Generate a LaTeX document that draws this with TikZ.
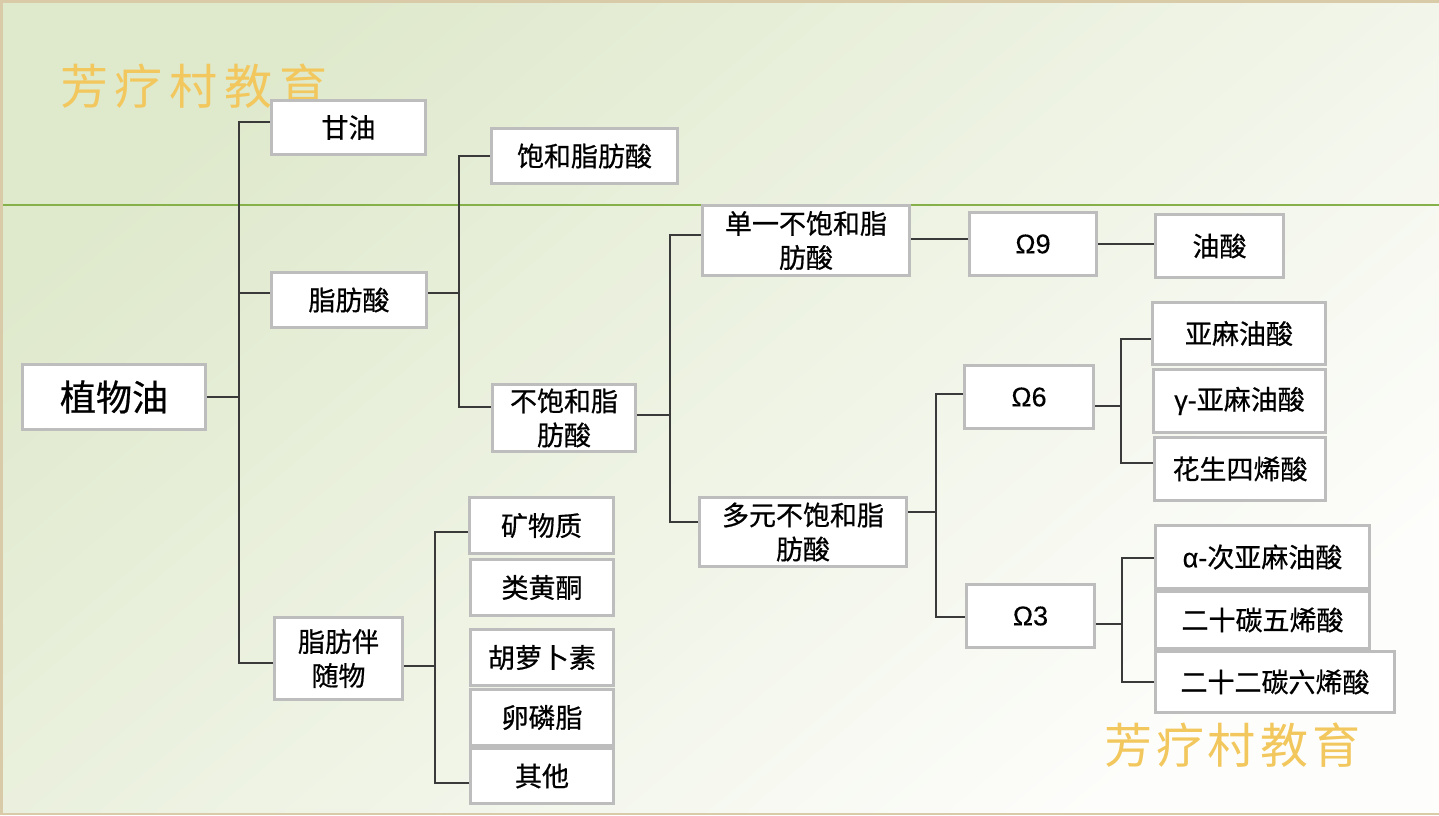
\documentclass[tikz,border=0pt]{standalone}
\usepackage{fontspec}
\setmainfont{Noto Sans CJK SC}[FakeBold=0.6]
\newfontfamily\lat{Liberation Sans}[FakeBold=0.3]
\newfontfamily\wmfont{Noto Sans CJK SC}
\usetikzlibrary{calc}
\definecolor{bordergray}{HTML}{BDBDBD}
\definecolor{framecol}{HTML}{D9CAA8}
\definecolor{bgA}{HTML}{DFE9CC}
\definecolor{bgB}{HTML}{FDFDFB}
\definecolor{greenline}{HTML}{86B04A}
\definecolor{gold}{HTML}{F2C85E}
\definecolor{connc}{HTML}{3A3A3A}
\begin{document}
\begin{tikzpicture}[x=1pt,y=-1pt,
  box/.style={draw=bordergray, line width=3pt, fill=white, inner sep=0pt, align=center,
              font=\fontsize{27}{34}\selectfont, text=black},
  conn/.style={draw=connc, line width=1.3pt},
  wmtext/.style={inner sep=0pt, text=gold, font=\wmfont\fontsize{48}{48}\selectfont}]
\useasboundingbox (0,0) rectangle (1439,815);
% background
\fill[framecol] (0,0) rectangle (1439,815);
\shade[top color=bgA, bottom color=bgB, shading angle=40] (3,3) rectangle (1439,812);
\draw[greenline, line width=1.4pt] (3,205) -- (1439,205);
% watermarks
\node[wmtext] (wmA) at (194,86) {芳\hspace{7pt}疗\hspace{7pt}村\hspace{7pt}教\hspace{7pt}育};
\node[wmtext] (wmB) at (1232,745) {芳\hspace{4pt}疗\hspace{4pt}村\hspace{4pt}教\hspace{4pt}育};
% boxes
\node[box, minimum width=183pt, minimum height=65pt, font=\fontsize{36}{40}\selectfont] (root) at (114,397) {植物油};
\node[box, minimum width=154pt, minimum height=54pt] (gy) at (348.5,127.5) {甘油};
\node[box, minimum width=155pt, minimum height=55pt] (zfs) at (349,300) {脂肪酸};
\node[box, minimum width=128pt, minimum height=82pt] (zfbsw) at (338.5,658.5) {脂肪伴\\随物};
\node[box, minimum width=186pt, minimum height=55pt] (bh) at (584.5,156) {饱和脂肪酸};
\node[box, minimum width=143pt, minimum height=67pt] (bbh) at (564,418) {不饱和脂\\肪酸};
\node[box, minimum width=207pt, minimum height=70pt] (dy) at (806,240.5) {单一不饱和脂\\肪酸};
\node[box, minimum width=207pt, minimum height=69pt] (dyb) at (803,532) {多元不饱和脂\\肪酸};
\node[box, minimum width=127pt, minimum height=63pt] (o9) at (1033,244) {{\lat Ω9}};
\node[box, minimum width=128pt, minimum height=63pt] (ys) at (1219.5,246) {油酸};
\node[box, minimum width=129pt, minimum height=63pt] (o6) at (1029,397) {{\lat Ω6}};
\node[box, minimum width=128pt, minimum height=63pt] (o3) at (1030.5,616) {{\lat Ω3}};
\node[box, minimum width=173pt, minimum height=62pt] (ymys) at (1239,333.5) {亚麻油酸};
\node[box, minimum width=172pt, minimum height=63pt] (gymys) at (1239.5,401) {{\lat γ-}亚麻油酸};
\node[box, minimum width=171pt, minimum height=63pt] (hss) at (1240,469) {花生四烯酸};
\node[box, minimum width=214pt, minimum height=63pt] (acy) at (1262.5,557) {{\lat α-}次亚麻油酸};
\node[box, minimum width=214pt, minimum height=57pt] (ets) at (1262.5,620) {二十碳五烯酸};
\node[box, minimum width=239pt, minimum height=61pt] (essl) at (1275,682) {二十二碳六烯酸};
\node[box, minimum width=144pt, minimum height=56pt] (kwz) at (541.5,525.5) {矿物质};
\node[box, minimum width=143pt, minimum height=56pt] (lhq) at (542,587.5) {类黄酮};
\node[box, minimum width=143pt, minimum height=56pt] (hlbs) at (542,657.5) {胡萝卜素};
\node[box, minimum width=143pt, minimum height=56pt] (llz) at (542,717.5) {卵磷脂};
\node[box, minimum width=143pt, minimum height=55pt] (qt) at (542,776) {其他};
% trunk coordinates
\coordinate (t1) at (239,397);
\coordinate (t2) at (459,293);
\coordinate (t3) at (670,415);
\coordinate (t4) at (936,512);
\coordinate (t5) at (1121,406);
\coordinate (t6) at (1122,624);
\coordinate (t7) at (435,666);
% connectors
\draw[conn] (root.east) -- (t1);
\draw[conn] (t1) |- ([yshift=5.5pt]gy.west);
\draw[conn] (t1) |- ([yshift=7pt]zfs.west);
\draw[conn] (t1) |- ([yshift=-4.5pt]zfbsw.west);
\draw[conn] ([yshift=7pt]zfs.east) -- (t2);
\draw[conn] (t2) |- (bh.west);
\draw[conn] (t2) |- ([yshift=11pt]bbh.west);
\draw[conn] ([yshift=3pt]bbh.east) -- (t3);
\draw[conn] (t3) |- ([yshift=5.5pt]dy.west);
\draw[conn] (t3) |- ([yshift=10pt]dyb.west);
\draw[conn] ([yshift=1.5pt]dy.east) -- ([yshift=5pt]o9.west);
\draw[conn] (o9.east) -- ([yshift=2pt]ys.west);
\draw[conn] ([yshift=20pt]dyb.east) -- (t4);
\draw[conn] (t4) |- ([yshift=3pt]o6.west);
\draw[conn] (t4) |- ([yshift=-1pt]o3.west);
\draw[conn] ([yshift=-9pt]o6.east) -- (t5);
\draw[conn] (t5) |- ([yshift=-5.5pt]ymys.west);
\draw[conn] (t5) |- ([yshift=6pt]hss.west);
\draw[conn] ([yshift=-8pt]o3.east) -- (t6);
\draw[conn] (t6) |- ([yshift=-1pt]acy.west);
\draw[conn] (t6) |- (essl.west);
\draw[conn] ([yshift=-7.5pt]zfbsw.east) -- (t7);
\draw[conn] (t7) |- ([yshift=-6.5pt]kwz.west);
\draw[conn] (t7) |- ([yshift=-7pt]qt.west);
\end{tikzpicture}
\end{document}
